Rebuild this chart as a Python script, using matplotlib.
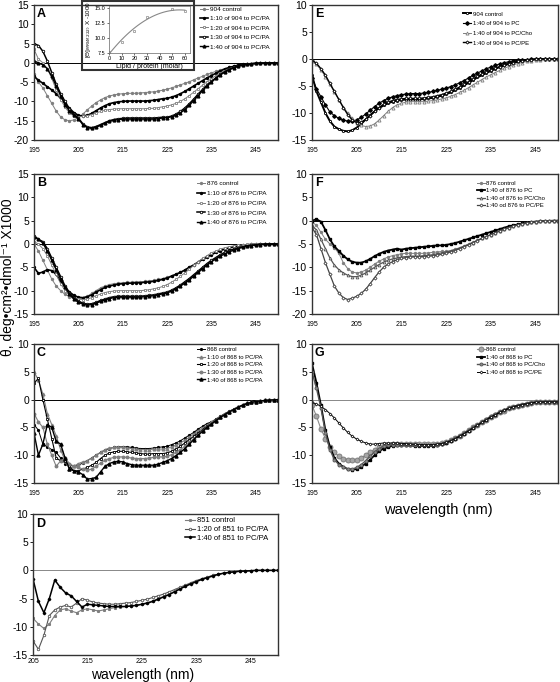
import numpy as np
import matplotlib
matplotlib.use('Agg')
import matplotlib.pyplot as plt
from matplotlib.patches import Rectangle

plt.rcParams['font.family'] = ['Liberation Sans', 'DejaVu Sans']
plt.rcParams['axes.unicode_minus'] = False

wl = np.arange(195, 251)
wl_d = np.arange(205, 251)

# ---- panel A : 904 + PC/PA ----
a_ctrl = [-3.0, -5.0, -6.5, -8.5, -10.5, -12.5, -14.0, -14.8, -15.0, -14.8,
          -14.2, -13.3, -12.2, -11.2, -10.3, -9.6, -9.0, -8.6, -8.3, -8.1,
          -8.0, -7.9, -7.9, -7.9, -7.8, -7.7, -7.6, -7.5, -7.3, -7.1,
          -6.8, -6.5, -6.1, -5.7, -5.3, -4.9, -4.4, -3.9, -3.5, -3.0,
          -2.6, -2.2, -1.8, -1.5, -1.2, -0.9, -0.7, -0.5, -0.35, -0.25,
          -0.15, -0.1, -0.05, 0.0, 0.0, 0.0]
a_110 = [-3.5, -4.5, -5.3, -6.2, -7.0, -8.0, -9.2, -10.5, -11.8, -12.9,
         -13.6, -13.8, -13.6, -13.1, -12.4, -11.7, -11.1, -10.6, -10.3, -10.1,
         -10.0, -9.9, -9.9, -9.9, -9.9, -9.9, -9.8, -9.7, -9.5, -9.3,
         -9.2, -8.9, -8.5, -8.0, -7.4, -6.7, -6.0, -5.3, -4.6, -3.9,
         -3.3, -2.7, -2.1, -1.6, -1.2, -0.9, -0.6, -0.4, -0.3, -0.2,
         -0.1, -0.05, 0.0, 0.0, 0.0, 0.0]
a_120 = [3.5, 1.0, 0.0, -1.5, -4.0, -7.0, -9.5, -11.5, -13.0, -13.8,
         -14.0, -13.9, -13.7, -13.4, -13.0, -12.6, -12.3, -12.1, -12.0, -11.9,
         -11.9, -11.9, -11.9, -11.9, -11.9, -11.9, -11.8, -11.8, -11.6, -11.4,
         -11.2, -10.9, -10.5, -10.0, -9.3, -8.5, -7.6, -6.7, -5.8, -4.9,
         -4.1, -3.3, -2.6, -2.0, -1.5, -1.1, -0.8, -0.55, -0.35, -0.2,
         -0.1, -0.05, 0.0, 0.0, 0.0, 0.0]
a_130 = [5.0, 4.5, 3.0, 0.5, -2.5, -5.5, -8.0, -10.0, -12.0, -13.3,
         -14.3, -15.8, -16.6, -16.8, -16.5, -16.0, -15.5, -15.0, -14.7, -14.5,
         -14.4, -14.3, -14.3, -14.3, -14.3, -14.3, -14.3, -14.3, -14.2, -14.1,
         -14.1, -13.8, -13.3, -12.6, -11.7, -10.6, -9.4, -8.1, -6.9, -5.8,
         -4.8, -3.9, -3.0, -2.3, -1.7, -1.2, -0.85, -0.6, -0.4, -0.25,
         -0.15, -0.1, -0.05, 0.0, 0.0, 0.0]
a_140 = [0.5, 0.0, -0.5, -1.5, -3.5, -6.0, -8.5, -10.8, -12.5, -13.6,
         -14.5, -16.0, -16.8, -17.0, -16.7, -16.2, -15.6, -15.2, -14.9, -14.7,
         -14.6, -14.6, -14.6, -14.6, -14.6, -14.6, -14.6, -14.6, -14.5, -14.3,
         -14.2, -14.0, -13.6, -13.0, -12.1, -11.0, -9.8, -8.5, -7.2, -6.0,
         -5.0, -4.0, -3.1, -2.4, -1.8, -1.3, -0.9, -0.6, -0.4, -0.25,
         -0.15, -0.1, -0.05, 0.0, 0.0, 0.0]

# inset of A
ratio = [0, 10, 20, 30, 50, 60]
theta222 = [7.6, 9.4, 11.2, 13.5, 14.8, 14.4]

# ---- panel B : 876 + PC/PA ----
b_ctrl = [0.0, -1.5, -3.5, -5.5, -7.5, -9.0, -10.0, -10.8, -11.3, -11.7,
          -11.8, -11.6, -11.2, -10.6, -10.0, -9.4, -9.0, -8.7, -8.5, -8.4,
          -8.3, -8.2, -8.2, -8.1, -8.1, -8.0, -7.9, -7.8, -7.6, -7.4,
          -7.1, -6.8, -6.4, -6.0, -5.5, -5.0, -4.4, -3.8, -3.2, -2.7,
          -2.2, -1.8, -1.4, -1.1, -0.8, -0.6, -0.4, -0.3, -0.2, -0.1,
          -0.05, 0.0, 0.0, 0.0, 0.0, 0.0]
b_110 = [-5.0, -6.3, -6.0, -5.5, -5.7, -6.5, -8.0, -9.3, -10.3, -11.0,
         -11.4, -11.5, -11.3, -10.9, -10.3, -9.8, -9.3, -9.0, -8.8, -8.6,
         -8.5, -8.4, -8.4, -8.3, -8.3, -8.2, -8.1, -8.0, -7.8, -7.6,
         -7.3, -6.9, -6.5, -6.1, -5.6, -5.0, -4.5, -3.9, -3.3, -2.8,
         -2.3, -1.8, -1.4, -1.1, -0.8, -0.6, -0.4, -0.3, -0.2, -0.1,
         -0.05, 0.0, 0.0, 0.0, 0.0, 0.0]
b_120 = [0.5, 0.0, -1.0, -2.5, -4.5, -6.5, -8.5, -10.0, -11.0, -11.5,
         -11.8, -11.9, -11.8, -11.5, -11.1, -10.7, -10.4, -10.2, -10.1, -10.0,
         -10.0, -10.0, -10.0, -10.0, -10.0, -9.9, -9.8, -9.6, -9.4, -9.1,
         -8.7, -8.2, -7.6, -6.9, -6.2, -5.4, -4.6, -3.8, -3.1, -2.5,
         -1.9, -1.5, -1.1, -0.8, -0.6, -0.4, -0.3, -0.2, -0.1, -0.05,
         0.0, 0.0, 0.0, 0.0, 0.0, 0.0]
b_130 = [1.8, 1.0, 0.5, -1.0, -3.0, -5.0, -7.0, -9.0, -10.5, -11.5,
         -12.2, -12.7, -12.9, -12.8, -12.5, -12.1, -11.8, -11.5, -11.3, -11.2,
         -11.2, -11.2, -11.2, -11.2, -11.2, -11.1, -11.0, -10.9, -10.7, -10.5,
         -10.3, -9.9, -9.4, -8.8, -8.1, -7.4, -6.6, -5.8, -5.0, -4.2,
         -3.5, -2.9, -2.3, -1.8, -1.4, -1.1, -0.8, -0.6, -0.4, -0.3,
         -0.2, -0.1, -0.05, 0.0, 0.0, 0.0]
b_140 = [1.5, 1.0, 0.2, -1.5, -3.5, -5.5, -7.5, -9.3, -10.8, -11.8,
         -12.5, -12.9, -13.1, -13.0, -12.7, -12.3, -12.0, -11.7, -11.5, -11.4,
         -11.4, -11.4, -11.4, -11.4, -11.4, -11.3, -11.2, -11.1, -10.9, -10.7,
         -10.5, -10.1, -9.6, -9.0, -8.4, -7.7, -6.9, -6.1, -5.3, -4.5,
         -3.8, -3.2, -2.6, -2.1, -1.7, -1.3, -1.0, -0.7, -0.5, -0.35,
         -0.25, -0.15, -0.1, -0.05, 0.0, 0.0]

# ---- panel C : 868 + PC/PA ----
c_ctrl = [-4.5, -5.5, -8.0, -8.5, -9.0, -9.5, -10.5, -11.5, -11.8, -12.0,
          -11.8, -11.4, -11.0, -10.5, -10.0, -9.5, -9.1, -8.8, -8.6, -8.5,
          -8.5, -8.5, -8.6, -8.7, -8.8, -8.8, -8.8, -8.7, -8.6, -8.5,
          -8.4, -8.1, -7.8, -7.4, -6.9, -6.4, -5.9, -5.3, -4.8, -4.3,
          -4.0, -3.5, -3.0, -2.5, -2.1, -1.7, -1.3, -1.0, -0.7, -0.5,
          -0.35, -0.25, -0.15, -0.1, -0.05, 0.0]
c_110 = [5.0, 3.5, 1.0, -2.5, -4.5, -6.5, -9.0, -11.0, -12.5, -12.0,
         -11.5, -11.2, -11.0, -10.5, -10.0, -9.5, -9.0, -8.7, -8.6, -8.6,
         -8.6, -8.7, -8.8, -8.9, -9.0, -9.0, -9.0, -8.9, -8.9, -8.9,
         -8.8, -8.5, -8.2, -7.8, -7.3, -6.8, -6.2, -5.6, -5.1, -4.6,
         -4.1, -3.6, -3.1, -2.6, -2.2, -1.8, -1.4, -1.0, -0.7, -0.5,
         -0.35, -0.25, -0.15, -0.1, -0.05, 0.0]
c_120 = [3.0, 3.8, 0.0, -3.5, -7.0, -10.5, -11.0, -11.0, -12.0, -12.8,
         -12.8, -12.5, -12.2, -11.8, -11.3, -10.6, -10.0, -9.6, -9.4, -9.3,
         -9.3, -9.4, -9.5, -9.6, -9.7, -9.8, -9.8, -9.7, -9.7, -9.7,
         -9.6, -9.3, -8.9, -8.4, -7.8, -7.2, -6.6, -6.0, -5.4, -4.8,
         -4.3, -3.7, -3.2, -2.7, -2.2, -1.8, -1.4, -1.0, -0.7, -0.5,
         -0.35, -0.25, -0.15, -0.1, -0.05, 0.0]
c_130 = [-2.5, -4.0, -5.0, -8.0, -10.0, -12.0, -11.0, -10.5, -11.5, -12.0,
         -12.2, -12.5, -12.7, -12.5, -12.0, -11.4, -10.9, -10.6, -10.4, -10.3,
         -10.3, -10.4, -10.5, -10.6, -10.6, -10.6, -10.5, -10.4, -10.3, -10.3,
         -10.2, -9.9, -9.5, -9.0, -8.4, -7.7, -7.0, -6.3, -5.6, -5.0,
         -4.4, -3.8, -3.2, -2.7, -2.2, -1.8, -1.4, -1.0, -0.7, -0.5,
         -0.35, -0.25, -0.15, -0.1, -0.05, 0.0]
c_140 = [-6.0, -10.0, -8.0, -4.5, -5.0, -7.5, -8.0, -10.5, -12.5, -12.8,
         -13.0, -13.5, -14.3, -14.2, -14.0, -13.0, -12.0, -11.5, -11.2, -11.1,
         -11.2, -11.5, -11.7, -11.8, -11.8, -11.8, -11.8, -11.8, -11.6, -11.3,
         -11.0, -10.6, -10.1, -9.5, -8.8, -8.0, -7.2, -6.4, -5.7, -5.0,
         -4.4, -3.8, -3.2, -2.7, -2.2, -1.8, -1.4, -1.0, -0.7, -0.5,
         -0.35, -0.25, -0.15, -0.1, -0.05, 0.0]

# ---- panel D : 851 + PC/PA (205-250 nm) ----
d_ctrl = [-8.5, -9.5, -10.3, -9.5, -8.0, -7.0, -6.8, -7.2, -7.5, -7.0,
          -6.8, -7.0, -7.2, -7.0, -6.8, -6.6, -6.5, -6.4, -6.3, -6.2,
          -6.0, -5.7, -5.4, -5.0, -4.6, -4.2, -3.7, -3.2, -2.8, -2.3,
          -1.9, -1.5, -1.2, -0.9, -0.7, -0.5, -0.35, -0.25, -0.15, -0.1,
          -0.05, 0.0, 0.0, 0.0, 0.0, 0.0]
d_120 = [-12.5, -14.0, -11.5, -8.0, -7.0, -6.5, -6.2, -6.5, -5.8, -5.0,
         -5.3, -5.6, -5.8, -5.9, -6.0, -6.0, -5.9, -5.8, -5.7, -5.5,
         -5.3, -5.1, -4.8, -4.5, -4.2, -3.8, -3.4, -3.0, -2.6, -2.2,
         -1.8, -1.5, -1.2, -0.9, -0.7, -0.5, -0.35, -0.25, -0.15, -0.1,
         -0.05, 0.0, 0.0, 0.0, 0.0, 0.0]
d_140 = [-1.5, -5.5, -7.5, -5.0, -1.7, -3.0, -4.0, -4.5, -5.5, -6.5,
         -6.0, -6.1, -6.2, -6.3, -6.4, -6.4, -6.4, -6.4, -6.3, -6.2,
         -6.0, -5.8, -5.5, -5.1, -4.7, -4.3, -3.8, -3.3, -2.8, -2.4,
         -2.0, -1.6, -1.3, -1.0, -0.7, -0.5, -0.35, -0.25, -0.15, -0.1,
         -0.05, 0.0, 0.0, 0.0, 0.0, 0.0]

# ---- panel E : 904 + PC, PC/Cho, PC/PE ----
e_ctrl = [-3.0, -6.0, -8.0, -10.0, -11.5, -12.5, -13.0, -13.3, -13.4, -13.2,
          -12.7, -12.0, -11.2, -10.4, -9.7, -9.1, -8.6, -8.2, -7.9, -7.7,
          -7.6, -7.5, -7.5, -7.5, -7.5, -7.4, -7.3, -7.2, -7.0, -6.8,
          -6.5, -6.2, -5.8, -5.4, -4.9, -4.4, -3.9, -3.4, -3.0, -2.6,
          -2.2, -1.8, -1.5, -1.2, -0.9, -0.7, -0.5, -0.35, -0.25, -0.15,
          -0.1, -0.05, 0.0, 0.0, 0.0, 0.0]
e_pc = [-3.5, -5.5, -7.0, -8.5, -9.8, -10.5, -11.0, -11.3, -11.5, -11.5,
        -11.3, -10.8, -10.2, -9.5, -8.8, -8.2, -7.7, -7.3, -7.0, -6.8,
        -6.6, -6.5, -6.4, -6.4, -6.4, -6.3, -6.2, -6.0, -5.8, -5.6,
        -5.4, -5.1, -4.8, -4.4, -4.0, -3.5, -3.0, -2.6, -2.2, -1.8,
        -1.5, -1.2, -0.9, -0.7, -0.5, -0.35, -0.25, -0.15, -0.1, -0.05,
        0.0, 0.0, 0.0, 0.0, 0.0, 0.0]
e_cho = [-0.3, -1.0, -2.0, -3.3, -4.7, -6.1, -7.5, -8.9, -10.0, -11.0,
         -11.8, -12.3, -12.5, -12.4, -12.0, -11.3, -10.5, -9.7, -9.0, -8.5,
         -8.2, -8.0, -7.9, -7.9, -7.9, -7.9, -7.8, -7.7, -7.6, -7.4,
         -7.2, -6.9, -6.6, -6.2, -5.8, -5.3, -4.8, -4.3, -3.8, -3.3,
         -2.9, -2.5, -2.1, -1.7, -1.4, -1.1, -0.85, -0.65, -0.45, -0.3,
         -0.2, -0.1, -0.05, 0.0, 0.0, 0.0]
e_pe = [-0.2, -0.8, -1.8, -3.0, -4.5, -6.0, -7.5, -9.0, -10.3, -11.3,
        -11.8, -11.7, -11.2, -10.5, -9.7, -9.0, -8.4, -8.0, -7.7, -7.5,
        -7.4, -7.3, -7.3, -7.3, -7.3, -7.2, -7.1, -7.0, -6.8, -6.6,
        -6.3, -6.0, -5.6, -5.2, -4.7, -4.2, -3.7, -3.2, -2.8, -2.4,
        -2.0, -1.7, -1.4, -1.1, -0.85, -0.65, -0.45, -0.3, -0.2, -0.1,
        -0.05, 0.0, 0.0, 0.0, 0.0, 0.0]

# ---- panel F : 876 + PC, PC/Cho, PC/PE ----
f_ctrl = [-0.3, -1.0, -2.5, -4.0, -5.0, -5.8, -7.0, -9.0, -10.3, -11.0,
          -11.2, -11.0, -10.6, -10.0, -9.3, -8.7, -8.2, -7.8, -7.5, -7.3,
          -7.1, -7.0, -7.0, -7.0, -7.0, -7.0, -6.9, -6.8, -6.7, -6.6,
          -6.6, -6.4, -6.1, -5.8, -5.4, -5.0, -4.6, -4.2, -3.8, -3.4,
          -3.0, -2.6, -2.2, -1.8, -1.5, -1.2, -0.9, -0.7, -0.5, -0.35,
          -0.25, -0.15, -0.1, -0.05, 0.0, 0.0]
f_pc = [0.0, 0.3, -0.2, -2.0, -4.0, -5.5, -6.5, -7.5, -8.3, -8.8,
        -9.0, -9.0, -8.7, -8.2, -7.6, -7.1, -6.7, -6.4, -6.2, -6.0,
        -6.2, -6.0, -5.9, -5.8, -5.7, -5.6, -5.5, -5.4, -5.3, -5.3,
        -5.2, -5.0, -4.8, -4.5, -4.2, -3.9, -3.6, -3.3, -3.0, -2.7,
        -2.4, -2.1, -1.8, -1.5, -1.2, -1.0, -0.8, -0.6, -0.45, -0.3,
        -0.2, -0.15, -0.1, -0.05, 0.0, 0.0]
f_cho = [-1.0, -2.0, -4.0, -6.0, -8.0, -9.5, -10.5, -11.2, -11.7, -12.0,
         -12.0, -11.7, -11.2, -10.6, -10.0, -9.4, -8.9, -8.5, -8.2, -8.0,
         -7.8, -7.7, -7.6, -7.6, -7.6, -7.5, -7.4, -7.3, -7.1, -6.9,
         -6.7, -6.5, -6.2, -5.9, -5.5, -5.1, -4.7, -4.2, -3.8, -3.4,
         -3.0, -2.6, -2.2, -1.8, -1.5, -1.2, -0.9, -0.7, -0.5, -0.35,
         -0.25, -0.15, -0.1, -0.05, 0.0, 0.0]
f_pe = [-1.5, -3.0, -6.0, -9.0, -11.5, -14.0, -15.5, -16.5, -16.9, -16.6,
        -16.2, -15.6, -14.7, -13.5, -12.2, -11.0, -10.0, -9.3, -8.8, -8.4,
        -8.1, -7.9, -7.8, -7.7, -7.7, -7.7, -7.6, -7.5, -7.4, -7.2,
        -7.0, -6.7, -6.4, -6.0, -5.6, -5.2, -4.7, -4.3, -3.8, -3.4,
        -3.0, -2.6, -2.2, -1.8, -1.5, -1.2, -0.9, -0.7, -0.5, -0.35,
        -0.25, -0.15, -0.1, -0.05, 0.0, 0.0]

# ---- panel G : 868 + PC, PC/Cho, PC/PE ----
g_ctrl = [-1.0, -3.0, -5.3, -7.0, -8.5, -9.5, -10.2, -10.6, -10.8, -10.9,
          -10.8, -10.5, -10.0, -9.5, -9.0, -8.6, -8.3, -8.1, -8.0, -7.9,
          -7.9, -7.9, -7.9, -8.0, -8.0, -8.0, -8.0, -8.0, -7.9, -7.8,
          -7.6, -7.3, -6.9, -6.5, -6.0, -5.5, -5.0, -4.5, -4.0, -3.6,
          -3.1, -2.7, -2.3, -2.0, -1.6, -1.4, -1.1, -0.9, -0.75, -0.6,
          -0.5, -0.45, -0.4, -0.4, -0.4, -0.4]
g_pc = [6.5, 3.0, -1.0, -5.5, -8.5, -10.5, -11.5, -12.1, -12.5, -12.6,
        -12.5, -12.1, -11.5, -10.8, -10.0, -9.3, -8.8, -8.5, -8.3, -8.2,
        -8.2, -8.2, -8.2, -8.3, -8.3, -8.3, -8.3, -8.3, -8.2, -8.0,
        -7.8, -7.4, -7.0, -6.6, -6.1, -5.6, -5.1, -4.6, -4.1, -3.6,
        -3.1, -2.7, -2.3, -1.9, -1.6, -1.3, -1.1, -0.9, -0.75, -0.6,
        -0.5, -0.45, -0.4, -0.4, -0.4, -0.4]
g_cho = [5.0, 2.0, -1.5, -6.0, -9.0, -10.8, -11.7, -12.2, -12.5, -12.5,
         -12.2, -11.7, -11.0, -10.2, -9.4, -8.8, -8.4, -8.2, -8.1, -8.1,
         -8.1, -8.2, -8.2, -8.2, -8.2, -8.2, -8.2, -8.2, -8.1, -7.9,
         -7.7, -7.3, -6.9, -6.5, -6.0, -5.5, -5.0, -4.5, -4.0, -3.5,
         -3.0, -2.6, -2.2, -1.9, -1.6, -1.3, -1.1, -0.9, -0.75, -0.6,
         -0.5, -0.45, -0.4, -0.4, -0.4, -0.4]
g_pe = [-0.5, -0.8, -1.2, -1.8, -2.5, -3.3, -4.2, -5.1, -5.9, -6.6,
        -7.1, -7.5, -7.8, -8.0, -8.0, -7.9, -7.8, -7.8, -7.8, -7.8,
        -7.9, -7.9, -8.0, -8.0, -8.1, -8.1, -8.1, -8.1, -8.0, -7.9,
        -7.7, -7.4, -7.0, -6.6, -6.1, -5.6, -5.1, -4.6, -4.1, -3.6,
        -3.1, -2.7, -2.3, -1.9, -1.6, -1.3, -1.1, -0.9, -0.75, -0.6,
        -0.5, -0.45, -0.4, -0.4, -0.4, -0.4]

pa_labels = ['{} control', '1:10 of {} to PC/PA', '1:20 of {} to PC/PA',
             '1:30 of {} to PC/PA', '1:40 of {} to PC/PA']
lip_labels = ['{} control', '1:40 of {} to PC', '1:40 of {} to PC/Cho',
              '1:40 of {} to PC/PE']

GR = '#7f7f7f'
pa_styles = [
    dict(color=GR, lw=0.7, marker='o', ms=1.4),
    dict(color='black', lw=1.2, marker='o', ms=1.4),
    dict(color=GR, lw=0.7, marker='s', ms=1.8, mfc='white', mew=0.6),
    dict(color='black', lw=1.1, marker='o', ms=1.8, mfc='white', mew=0.6),
    dict(color='black', lw=1.0, marker='^', ms=2.0),
]
c_styles = [
    dict(color='black', lw=0.7, marker='o', ms=1.3),
    dict(color=GR, lw=0.8, marker='^', ms=2.0),
    dict(color='black', lw=0.8, marker='s', ms=2.0, mfc='white', mew=0.6),
    dict(color=GR, lw=0.8, marker='o', ms=1.8),
    dict(color='black', lw=1.0, marker='^', ms=2.2),
]
d_styles = [
    dict(color=GR, lw=0.8, marker='s', ms=1.2),
    dict(color='#555555', lw=0.8, marker='o', ms=1.8, mfc='white', mew=0.6),
    dict(color='black', lw=1.1, marker='D', ms=1.3),
]
e_styles = [
    dict(color='black', lw=1.4, marker='o', ms=1.6, mfc='white', mew=0.6),
    dict(color='black', lw=0.8, marker='D', ms=1.8),
    dict(color=GR, lw=0.7, marker='^', ms=2.2, mfc='white', mew=0.6),
    dict(color='black', lw=1.0, marker='D', ms=1.6, mfc='white', mew=0.6),
]
f_styles = [
    dict(color=GR, lw=0.7, marker='o', ms=1.4),
    dict(color='black', lw=1.3, marker='s', ms=1.5),
    dict(color='#555555', lw=0.9, marker='^', ms=2.0, mfc='white', mew=0.6),
    dict(color='#444444', lw=0.9, marker='D', ms=1.6, mfc='white', mew=0.6),
]
g_styles = [
    dict(color='#8c8c8c', lw=0.8, marker='o', ms=3.6, mfc='#a6a6a6', mec='#777777', mew=0.6),
    dict(color='black', lw=1.3, marker='s', ms=1.5),
    dict(color='#555555', lw=1.0, marker='o', ms=2.2, mfc='#8c8c8c', mew=0.6),
    dict(color='black', lw=0.7, marker='D', ms=1.5, mfc='white', mew=0.5),
]

fig = plt.figure(figsize=(5.6, 6.82), dpi=100)


def px_axes(l, t, r, b):
    return fig.add_axes([l / 560, 1 - b / 682, (r - l) / 560, (b - t) / 682])


def panel(box, x, series, labels, styles, ylim, letter, leg_xy, leg_fs, leg_sp,
          zcolor='black', xpad=5):
    ax = px_axes(*box)
    ax.axhline(0, color=zcolor, lw=0.7, zorder=1)
    for y, lab, st in zip(series, labels, styles):
        ax.plot(x, y, label=lab, zorder=2, **st)
    ax.set_xlim(x[0], 250)
    ax.set_ylim(*ylim)
    ax.set_yticks(np.arange(ylim[0], ylim[1] + 1, 5))
    ax.set_xticks(np.arange(x[0], 250, 10))
    ax.tick_params(axis='x', length=0, pad=xpad, labelsize=5)
    ax.tick_params(axis='y', length=2.5, width=0.6, pad=1, labelsize=7.5)
    for s in ax.spines.values():
        s.set_linewidth(1.0)
        s.set_color('#333333')
    ax.text(0.012, 0.975, letter, transform=ax.transAxes, fontsize=9,
            fontweight='bold', va='top', ha='left')
    ax.legend(loc='upper left', bbox_to_anchor=leg_xy, frameon=False,
              fontsize=leg_fs, handlelength=1.3, handletextpad=0.3,
              borderpad=0, borderaxespad=0, labelspacing=leg_sp)
    return ax


panel((34, 5, 278, 140), wl, [a_ctrl, a_110, a_120, a_130, a_140],
      [l.format(904) for l in pa_labels], pa_styles, (-20, 15), 'A',
      (0.68, 0.99), 4.6, 0.62)
panel((34, 174, 278, 314), wl, [b_ctrl, b_110, b_120, b_130, b_140],
      [l.format(876) for l in pa_labels], pa_styles, (-15, 15), 'B',
      (0.668, 0.95), 4.6, 0.66)
panel((34, 344, 278, 483), wl, [c_ctrl, c_110, c_120, c_130, c_140],
      [l.format(868) for l in pa_labels], c_styles, (-15, 10), 'C',
      (0.668, 0.978), 4.3, 0.4)
panel((33, 514, 278, 655), wl_d, [d_ctrl, d_120, d_140],
      ['851 control', '1:20 of 851 to PC/PA', '1:40 of 851 to PC/PA'],
      d_styles, (-15, 10), 'D', (0.62, 0.979), 5.5, 0.2, zcolor='#888888',
      xpad=2.5)
panel((312, 5, 558, 140), wl, [e_ctrl, e_pc, e_cho, e_pe],
      [l.format(904) for l in lip_labels], e_styles, (-15, 10), 'E',
      (0.614, 0.953), 4.3, 0.75)
f_labels = [l.format(876) for l in lip_labels]
f_labels[3] = '1:40 od 876 to PC/PE'
panel((312, 174, 558, 314), wl, [f_ctrl, f_pc, f_cho, f_pe], f_labels,
      f_styles, (-20, 10), 'F', (0.67, 0.954), 4.3, 0.4)
panel((312, 344, 558, 483), wl, [g_ctrl, g_pc, g_cho, g_pe],
      [l.format(868) for l in lip_labels], g_styles, (-15, 10), 'G',
      (0.67, 0.978), 4.3, 0.4, zcolor='#888888')

# inset in A
ins = px_axes(109, 6, 190, 53)
ins.plot(ratio, theta222, ls='none', marker='s', ms=1.5, mfc='white',
         mec='#888888', mew=0.5)
coef = np.polyfit(ratio, theta222, 2)
xf = np.linspace(0, 60, 100)
ins.plot(xf, np.polyval(coef, xf), color='#888888', lw=0.8)
ins.set_xlim(0, 64)
ins.set_ylim(7.5, 15.3)
ins.set_xticks(np.arange(0, 61, 10))
ins.set_yticks([7.5, 10.0, 12.5, 15.0])
ins.set_yticklabels(['7.5', '10.0', '12.5', '15.0'])
ins.tick_params(labelsize=4, length=1.5, width=0.4, pad=1)
for s in ins.spines.values():
    s.set_linewidth(0.5)
    s.set_color('#666666')
ins.set_xlabel('Lipid / protein (molar)', fontsize=5, labelpad=1)
ins.set_ylabel(r'[$\Theta$]$_{MRW(222)}$ X -1000', fontsize=4.5, labelpad=1)
fig.add_artist(Rectangle((82 / 560, 1 - 70 / 682), 112 / 560, 69 / 682,
                         transform=fig.transFigure, fill=False, lw=1.5,
                         ec='#333333'))

fig.text(8 / 560, 1 - 277 / 682, 'θ, deg•cm²•dmol⁻¹ X1000', rotation=90,
         ha='center', va='center', fontsize=10,
         family=['Liberation Sans', 'DejaVu Sans'])
fig.text(143 / 560, 1 - 675 / 682, 'wavelength (nm)', ha='center',
         va='center', fontsize=10)
fig.text(438 / 560, 1 - 510 / 682, 'wavelength (nm)', ha='center',
         va='center', fontsize=10.5)

fig.savefig('out.png', dpi=100)
